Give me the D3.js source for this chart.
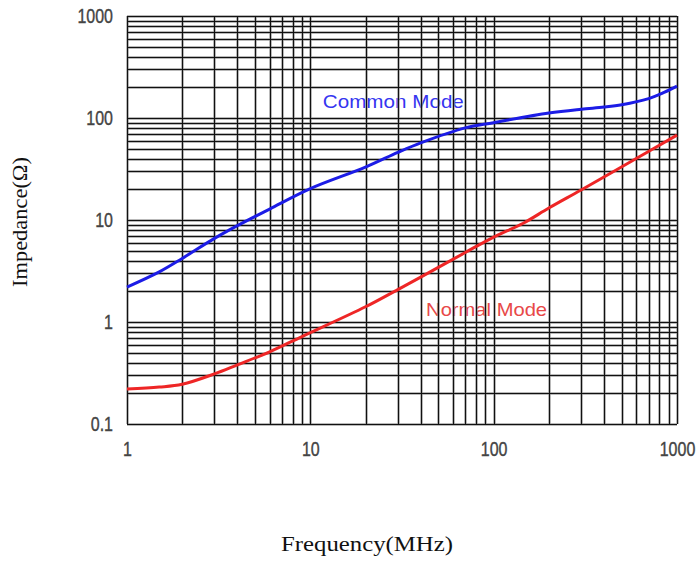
<!DOCTYPE html>
<html>
<head>
<meta charset="utf-8">
<script src="https://cdn.jsdelivr.net/npm/d3@7"></script>
<style>
    body { margin: 0; background: #fff; }
    svg text { font-family: "Liberation Sans", Arial, sans-serif; }
    .title { font-family: "Liberation Serif", "Times New Roman", serif; }
</style>
</head>
<body>
<svg id="chart" width="700" height="566"></svg>
<script>
// values (MHz / Ohm)
const freqCommon = [1, 1.5, 2, 3, 4, 6, 10, 20, 30, 40, 70, 100, 200, 300, 400, 500, 700, 850, 1000];
const commonMode = [2.2, 3.1, 4.2, 6.6, 8.8, 12.8, 20.3, 33, 46, 57, 80, 90, 112, 122, 128, 135, 155, 178, 205];

const freqNormal = [1, 1.5, 2, 3, 4, 6, 9, 20, 30, 40, 70, 100, 145, 200, 300, 580, 1000];
const normalMode = [0.22, 0.23, 0.245, 0.31, 0.38, 0.51, 0.72, 1.41, 2.08, 2.75, 4.8, 6.8, 9.3, 13.1, 19.7, 38.7, 68];

const xTickValues = [1, 10, 100, 1000];
const xTickLabels = ["1", "10", "100", "1000"];
const yTickValues = [0.1, 1, 10, 100, 1000];
const yTickLabels = ["0.1", "1", "10", "100", "1000"];

const seriesNames = ["Common Mode", "Normal Mode"];
const labelFreq = [11.7, 42.8];
const labelValue = [125, 1.145];

let margin = {left: 127, right: 23, top: 16, bottom: 142};
let width = 700 - margin.left - margin.right;
let height = 566 - margin.top - margin.bottom;

let svg = d3.select('#chart');

let x = d3.scaleLog()
    .domain([1, 1000])
    .range([margin.left, margin.left + width]);

let y = d3.scaleLog()
    .domain([0.1, 1000])
    .range([margin.top + height, margin.top]);

// grid at 1..9 of every decade
let gridX = [];
[1, 10, 100].forEach(d => d3.range(1, 10).forEach(k => gridX.push(d * k)));
gridX.push(1000);
let gridY = [];
[0.1, 1, 10, 100].forEach(d => d3.range(1, 10).forEach(k => gridY.push(+(d * k).toPrecision(3))));
gridY.push(1000);

let colors = ["#1c1ce6", "#ee2626"];
let labelColors = ["#3535f0", "#e84848"];

// series labels sit under the grid in the original
svg.selectAll('text.series')
    .data(seriesNames)
    .join('text')
    .attr('class', 'series')
    .attr('x', (d, i) => x(labelFreq[i]))
    .attr('y', (d, i) => y(labelValue[i]))
    .attr('font-size', 19)
    .attr('textLength', (d, i) => i === 0 ? 141 : 121)
    .attr('lengthAdjust', 'spacingAndGlyphs')
    .attr('fill', (d, i) => labelColors[i])
    .text(d => d);

function drawGrid(stroke, strokeWidth, opacity) {
    let g = svg.append('g');
    g.append('g')
        .attr('transform', `translate(0,${margin.top + height})`)
        .call(d3.axisBottom(x).tickValues(gridX).tickSize(-height).tickFormat(''))
        .call(s => s.select('.domain').remove());
    g.append('g')
        .attr('transform', `translate(${margin.left},0)`)
        .call(d3.axisLeft(y).tickValues(gridY).tickSize(-width).tickFormat(''))
        .call(s => s.select('.domain').remove());
    g.selectAll('line')
        .attr('stroke', stroke)
        .attr('stroke-width', strokeWidth)
        .attr('stroke-opacity', opacity)
        .attr('shape-rendering', 'crispEdges');
}
drawGrid('#8a8a8a', 3, 0.6);
drawGrid('#111', 1, 1);

// tick labels
let xAxis = svg.append('g')
    .attr('transform', `translate(0,${margin.top + height})`)
    .call(d3.axisBottom(x).tickValues(xTickValues).tickSize(0).tickPadding(13)
        .tickFormat((d, i) => xTickLabels[i]))
    .call(s => s.select('.domain').remove());

let yAxis = svg.append('g')
    .attr('transform', `translate(${margin.left},0)`)
    .call(d3.axisLeft(y).tickValues(yTickValues).tickSize(0).tickPadding(14)
        .tickFormat((d, i) => yTickLabels[i]))
    .call(s => s.select('.domain').remove());

svg.selectAll('.tick text')
    .attr('font-family', '"Liberation Sans", Arial, sans-serif')
    .attr('font-size', 16)
    .attr('fill', '#444')
    .attr('stroke', '#444')
    .attr('stroke-width', 0.3)
    .attr('transform', 'scale(1,1.3)');

// curves
let line = d3.line()
    .x(d => x(d[0]))
    .y(d => y(d[1]))
    .curve(d3.curveCatmullRom.alpha(0.5));

let series = [
    d3.zip(freqCommon, commonMode),
    d3.zip(freqNormal, normalMode)
];

svg.selectAll('path.curve')
    .data(series)
    .join('path')
    .attr('class', 'curve')
    .attr('fill', 'none')
    .attr('stroke', (d, i) => colors[i])
    .attr('stroke-width', 3)
    .attr('stroke-linejoin', 'round')
    .attr('d', line);

// axis titles
svg.append('text')
    .attr('class', 'title')
    .attr('transform', 'translate(27,222) rotate(-90)')
    .attr('text-anchor', 'middle')
    .attr('font-size', 20)
    .attr('textLength', 130)
    .attr('lengthAdjust', 'spacingAndGlyphs')
    .attr('fill', '#111')
    .text('Impedance(Ω)');

svg.append('text')
    .attr('class', 'title')
    .attr('x', 367)
    .attr('y', 551)
    .attr('text-anchor', 'middle')
    .attr('font-size', 22)
    .attr('textLength', 172)
    .attr('lengthAdjust', 'spacingAndGlyphs')
    .attr('fill', '#111')
    .text('Frequency(MHz)');
</script>
</body>
</html>
